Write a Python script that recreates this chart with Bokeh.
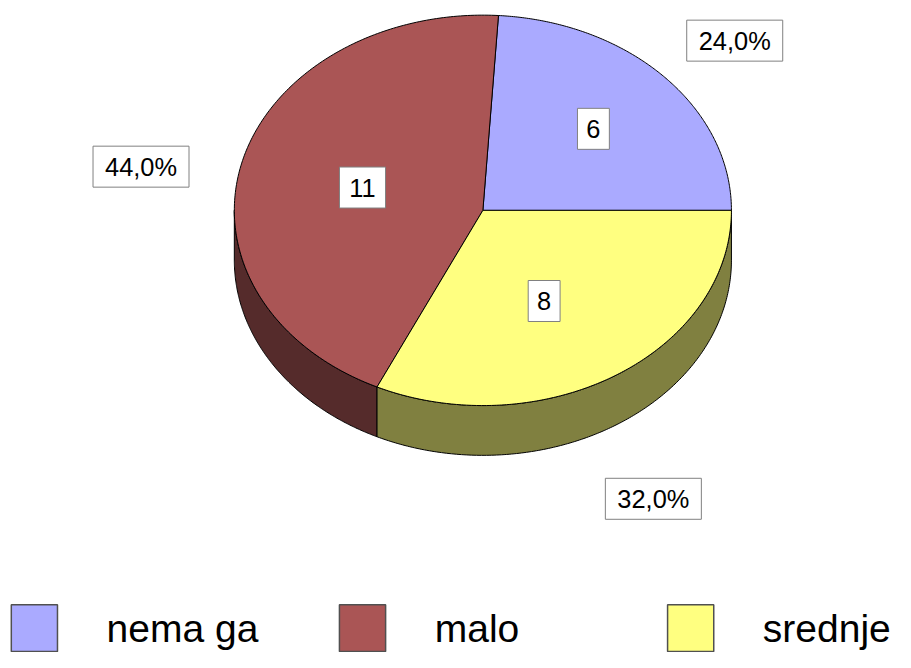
import numpy as np
from bokeh.plotting import figure
from bokeh.models import Range1d
from bokeh.core.properties import value
from bokeh.embed import file_html
from bokeh.resources import INLINE

# ---- data ----
categories = ["nema ga", "malo", "srednje"]
counts = [6, 11, 8]
top_colors = ["#AAAAFF", "#AA5555", "#FFFF80"]
side_colors = ["#55557F", "#552B2B", "#808040"]

# ---- layout (data space = reference pixel space 911x668) ----
W, H = 895, 652
RW, RH = 911, 668
cx, cy, rx, ry, depth = 491, 215, 253, 200, 51
FONT = "Liberation Sans"
s = H / RH
FS = 26  # label font size in reference px

p = figure(width=W, height=H, x_range=Range1d(0, RW), y_range=Range1d(RH, 0),
           output_backend="svg", toolbar_location=None, min_border=0)
p.axis.visible = False
p.grid.visible = False
p.outline_line_color = None
p.background_fill_color = "white"

vals = np.array(counts, dtype=float)
total = vals.sum()
fracs = vals / total
ends = np.cumsum(fracs) * 2 * np.pi
starts = ends - fracs * 2 * np.pi


def arc(a0, a1, n=200):
    t = np.linspace(a0, a1, n)
    return cx + rx * np.cos(t), cy - ry * np.sin(t)

# sides (front half: angles pi..2pi)
sx, sy, sc = [], [], []
for a0, a1, col in zip(starts, ends, side_colors):
    lo, hi = max(a0, np.pi), min(a1, 2 * np.pi)
    if hi > lo:
        ax, ay = arc(lo, hi)
        sx.append(np.concatenate([ax, ax[::-1]]).tolist())
        sy.append(np.concatenate([ay, ay[::-1] + depth]).tolist())
        sc.append(col)
p.patches(sx, sy, fill_color=sc, line_color="black", line_width=1)

# tops
tx, ty = [], []
for a0, a1 in zip(starts, ends):
    ax, ay = arc(a0, a1)
    tx.append([cx] + ax.tolist() + [cx])
    ty.append([cy] + ay.tolist() + [cy])
p.patches(tx, ty, fill_color=top_colors, line_color="black", line_width=1)

mids = (starts + ends) / 2
fs = "%.1fpx" % (FS * s)


def label_boxes(xs, ys, texts, pad):
    widths = []
    for t in texts:
        w = 0.0
        for ch in t:
            w += {"%": 0.889, ",": 0.278}.get(ch, 0.556)
        widths.append(w * FS + 2 * pad)
    p.rect(xs, ys, width=widths, height=[42] * len(xs), fill_color="white",
           line_color="#808080", line_width=1)
    p.text(xs, ys, text=texts, text_align="center", text_baseline="middle",
           text_font=value(FONT), text_font_size=fs, text_color="black")

# value labels
vfx = [0.61, 0.50, 0.46]
vfy = [0.61, 0.47, 0.55]
vx = [cx + fx * rx * np.cos(m) for fx, m in zip(vfx, mids)]
vy = [cy - fy * ry * np.sin(m) for fy, m in zip(vfy, mids)]
label_boxes(vx, vy, [str(c) for c in counts], 9)

# percent labels
pfx = [1.39, 1.42, 1.28]
pfy = [1.27, 0.90, 1.75]
px_ = [cx + fx * rx * np.cos(m) for fx, m in zip(pfx, mids)]
py_ = [cy - fy * ry * np.sin(m) for fy, m in zip(pfy, mids)]
pct = [("%.1f%%" % (f * 100)).replace(".", ",") for f in fracs]
label_boxes(px_, py_, pct, 12)

# legend
lx0, lstep, sq_w, sq_h, sq_top = 11, 334, 47, 48, 619
lx = [lx0 + lstep * i for i in range(len(categories))]
p.rect([x + sq_w / 2 for x in lx], [sq_top + sq_h / 2] * len(lx), width=sq_w, height=sq_h,
       fill_color=top_colors, line_color="#505050", line_width=1.5)
p.text([x + 97 for x in lx], [643] * len(lx), text=categories, text_align="left",
       text_baseline="middle", text_font=value(FONT), text_font_size="%.1fpx" % (40 * s),
       text_color="black")

open("out.html", "w").write(file_html(p, INLINE))
